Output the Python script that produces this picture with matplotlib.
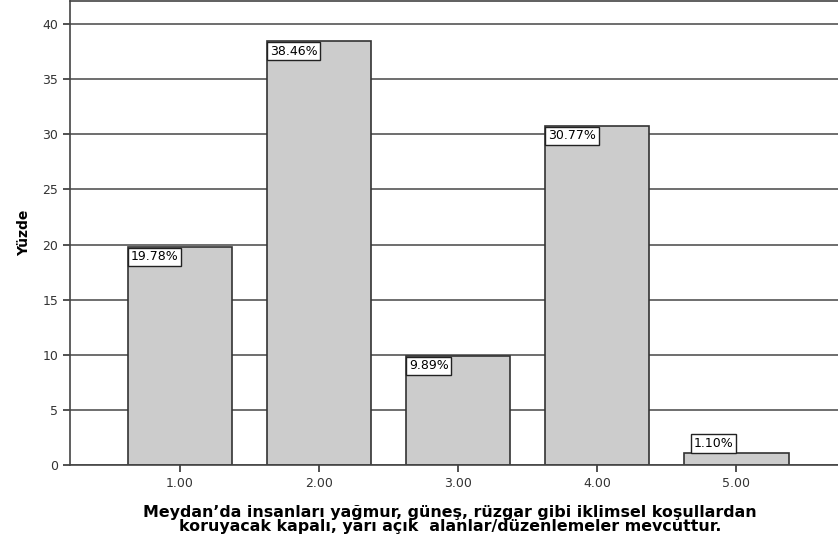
import matplotlib
matplotlib.use("Agg")
import matplotlib.pyplot as plt

categories = [1.0, 2.0, 3.0, 4.0, 5.0]
percents = [19.78, 38.46, 9.89, 30.77, 1.10]
tick_labels = ["1.00", "2.00", "3.00", "4.00", "5.00"]
y_ticks = [0, 5, 10, 15, 20, 25, 30, 35, 40]

plt.rcParams['font.family'] = ['DejaVu Sans']

fig = plt.figure(figsize=(8.38, 5.4), dpi=100)
ax = fig.add_axes([70 / 838, 75 / 540, 1 - 70 / 838, 464 / 540])

ax.set_axisbelow(True)
ax.yaxis.grid(True, color="#555555", linewidth=1.2)
bar_w = 0.75
ax.bar(categories, percents, width=bar_w, color="#cccccc",
       edgecolor="#333333", linewidth=1.2, zorder=2)

for x, v in zip(categories, percents):
    label = f"{v:.2f}%"
    box = dict(boxstyle="square,pad=0.22", facecolor="white",
               edgecolor="#222222", linewidth=1)
    if v > 3:
        ax.annotate(label, (x - bar_w / 2, v), xytext=(2, -2.5),
                    textcoords="offset points", ha="left", va="top",
                    fontsize=9, bbox=box, zorder=3)
    else:
        ax.annotate(label, (x - bar_w / 2, v), xytext=(7, 2),
                    textcoords="offset points", ha="left", va="bottom",
                    fontsize=9, bbox=box, zorder=3)

ax.set_xlim(0.21, 5.73)
ax.set_ylim(0, 42.1)
ax.set_xticks(categories)
ax.set_xticklabels(tick_labels)
ax.set_yticks(y_ticks)
ax.tick_params(axis="both", labelsize=9, colors="#333333", length=5, width=1.2)

for side in ["left", "bottom", "top"]:
    ax.spines[side].set_color("#444444")
    ax.spines[side].set_linewidth(1.2)
ax.spines["right"].set_visible(False)

ax.set_ylabel("Yüzde", fontsize=10, fontweight="bold", labelpad=8)
ax.set_xlabel("Meydan’da insanları yağmur, güneş, rüzgar gibi iklimsel koşullardan\n"
              "koruyacak kapalı, yarı açık  alanlar/düzenlemeler mevcuttur.",
              fontsize=11.4, fontweight="bold", linespacing=0.92, labelpad=8)
ax.xaxis.set_label_coords((450 - 70) / 768, -0.086)

fig.savefig("out.png", dpi=100)
